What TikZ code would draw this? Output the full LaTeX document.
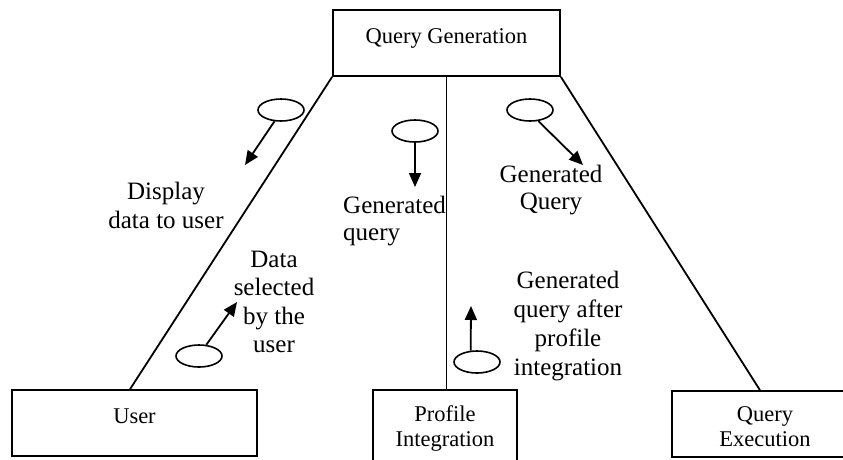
\documentclass[tikz,border=0pt]{standalone}
\usepackage{fontspec}
\setmainfont{Liberation Serif}
\usetikzlibrary{shapes.geometric,arrows.meta,calc}
\begin{document}
\begin{tikzpicture}[x=1pt,y=-1pt,
  box/.style={draw, line width=1.8pt, rectangle, inner sep=0pt, font=\fontsize{22.5}{25}\selectfont},
  oval/.style={draw, ellipse, line width=1.6pt, minimum width=46pt, minimum height=22pt, inner sep=0pt},
  link/.style={line width=1.8pt},
  flow/.style={line width=1.8pt, -{Triangle[length=14pt,width=12pt]}},
  lab/.style={inner sep=0pt, anchor=base}]
\useasboundingbox (0,0) rectangle (843,459);
\clip (0,0) rectangle (843,459);

% boxes
\node[box, minimum width=227pt, minimum height=66pt] (QG) at (446.5,43)
  {\raisebox{0pt}[0pt][0pt]{Query Generation}};
\node[box, minimum width=245pt, minimum height=66pt] (U) at (134.5,423)
  {\raisebox{0pt}[0pt][0pt]{User}};
\node[box, minimum width=144pt, minimum height=80pt] (P) at (445,430)
  {\raisebox{9pt}[0pt][0pt]{\begin{tabular}[t]{@{}c@{}}Profile\\Integration\end{tabular}}};
\node[box, minimum width=186pt, minimum height=66pt] (QE) at (765,424)
  {\raisebox{3pt}[0pt][0pt]{\begin{tabular}[t]{@{}c@{}}Query\\Execution\end{tabular}}};

% connectors
\draw[link] (QG.south west) -- ($(U.north west)!0.482!(U.north east)$);
\draw[link] (QG.south) -- (QG.south |- P.north);
\draw[link] (QG.south east) -- ($(QE.north west)!0.473!(QE.north east)$);

% message ovals and arrows
\node[oval] (E1) at (281,110) {};
\node[oval] (E2) at (415,131) {};
\node[oval] (E3) at (530,110) {};
\node[oval] (E4) at (199,356) {};
\node[oval] (E5) at (477,362) {};
\coordinate (T1) at (245,165);
\coordinate (T2) at (415,187);
\coordinate (T3) at (583,165);
\coordinate (T4) at (237,302);
\coordinate (T5) at (471,306);
\draw[flow] (E1.-120) -- (T1);
\draw[flow] (E2.south) -- (T2);
\draw[flow] (E3.-53) -- (T3);
\draw[flow] (E4.57) -- (T4);
\draw[flow] (E5.119) -- (T5);

% labels
\node[lab, font=\fontsize{25}{29}\selectfont] (L1) at (166,199)
  {\begin{tabular}[t]{@{}c@{}}Display\\data to user\end{tabular}};
\node[lab, font=\fontsize{25}{28.5}\selectfont] (L2) at (274,267)
  {\begin{tabular}[t]{@{}c@{}}Data\\selected\\by the\\user\end{tabular}};
\node[lab, anchor=base west, font=\fontsize{25}{27}\selectfont] (L3) at (343,213)
  {\begin{tabular}[t]{@{}l@{}}Generated\\query\end{tabular}};
\node[lab, font=\fontsize{25}{27.5}\selectfont] (L4) at (551,182)
  {\begin{tabular}[t]{@{}c@{}}Generated\\Query\end{tabular}};
\node[lab, font=\fontsize{25}{29}\selectfont] (L5) at (568,288)
  {\begin{tabular}[t]{@{}c@{}}Generated\\query after\\profile\\integration\end{tabular}};
\end{tikzpicture}
\end{document}
